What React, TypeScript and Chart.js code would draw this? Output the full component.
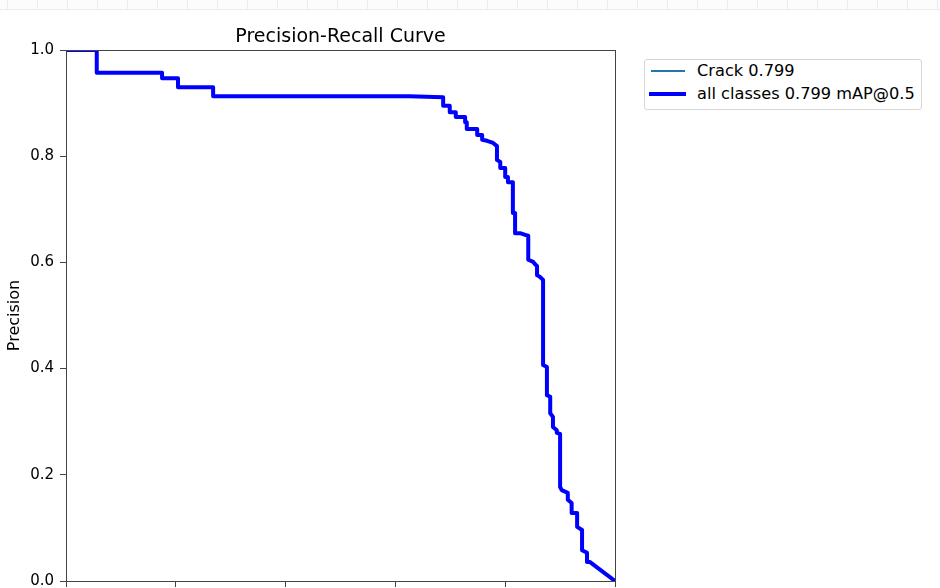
import React, { useEffect, useRef } from "react";
import { Chart, registerables } from "chart.js";

Chart.register(...registerables);

const chartTitle = "Precision-Recall Curve";
const xAxisTitle = "Recall";
const yAxisTitle = "Precision";
const classLabel = "Crack 0.799";
const allLabel = "all classes 0.799 mAP@0.5";

const recall = [
  0, 0.056, 0.056, 0.175, 0.175, 0.204, 0.204, 0.268, 0.268, 0.625, 0.687, 0.687,
  0.699, 0.699, 0.71, 0.71, 0.727, 0.727, 0.73, 0.73, 0.749, 0.749, 0.758, 0.758,
  0.767, 0.778, 0.785, 0.785, 0.791, 0.791, 0.8, 0.8, 0.805, 0.805, 0.814, 0.814,
  0.818, 0.818, 0.827, 0.842, 0.842, 0.851, 0.854, 0.858, 0.858, 0.863, 0.869, 0.869,
  0.876, 0.876, 0.882, 0.882, 0.887, 0.887, 0.894, 0.894, 0.9, 0.9, 0.903, 0.914,
  0.914, 0.921, 0.921, 0.931, 0.931, 0.94, 0.94, 0.949, 0.949, 0.954, 1.0,
];

const precision = [
  1.0, 1.0, 0.957, 0.957, 0.947, 0.947, 0.93, 0.93, 0.913, 0.913, 0.911, 0.895,
  0.895, 0.883, 0.883, 0.874, 0.874, 0.864, 0.864, 0.851, 0.851, 0.84, 0.84, 0.831,
  0.829, 0.825, 0.819, 0.793, 0.789, 0.778, 0.778, 0.761, 0.761, 0.751, 0.751, 0.693,
  0.693, 0.655, 0.655, 0.65, 0.605, 0.601, 0.597, 0.593, 0.576, 0.573, 0.567, 0.407,
  0.403, 0.35, 0.347, 0.316, 0.309, 0.29, 0.284, 0.279, 0.277, 0.177, 0.171, 0.166,
  0.153, 0.147, 0.128, 0.128, 0.102, 0.096, 0.058, 0.053, 0.036, 0.036, 0.0,
];

const axisMin = 0;
const axisMax = 1;
const tickStep = 0.2;

const FONT = "'DejaVu Sans', sans-serif";
const W = 940;
const H = 640;

const framePlugin = {
  id: "frame",
  afterDatasetsDraw(chart: any) {
    const { ctx, chartArea: a } = chart;
    ctx.save();
    ctx.strokeStyle = "#444";
    ctx.lineWidth = 1;
    ctx.strokeRect(
      Math.round(a.left) + 0.5,
      Math.round(a.top) + 0.5,
      Math.round(a.right - a.left),
      Math.round(a.bottom - a.top)
    );
    ctx.restore();
  },
};

export default function App() {
  const ref = useRef<HTMLCanvasElement | null>(null);

  useEffect(() => {
    if (!ref.current) return;
    const points = recall.map((r, i) => ({ x: r, y: precision[i] }));
    const chart = new Chart(ref.current, {
      type: "line",
      data: {
        datasets: [
          {
            label: allLabel,
            data: points,
            borderColor: "#0000ff",
            backgroundColor: "#0000ff",
            borderWidth: 4,
            pointRadius: 0,
            tension: 0,
            fill: false,
            clip: 0,
            borderJoinStyle: "round",
          },
          {
            label: classLabel,
            data: points,
            borderColor: "#1f77b4",
            backgroundColor: "#1f77b4",
            borderWidth: 1,
            pointRadius: 0,
            tension: 0,
            fill: false,
            clip: 0,
          },
        ],
      },
      options: {
        animation: false,
        responsive: false,
        maintainAspectRatio: false,
        layout: { padding: { left: 0, right: W - 615, top: 0, bottom: 0 } },
        plugins: {
          legend: { display: false },
          tooltip: { enabled: false },
          title: {
            display: true,
            fullSize: false,
            text: chartTitle,
            color: "#000",
            font: { family: FONT, size: 19, weight: "normal", lineHeight: 1.2 },
            padding: { top: 26, bottom: 1.2 },
          },
        },
        scales: {
          x: {
            type: "linear",
            min: axisMin,
            max: axisMax,
            border: { display: true, color: "#444", width: 1 },
            grid: {
              display: true,
              drawOnChartArea: false,
              drawTicks: true,
              tickLength: 6,
              color: "#444",
            },
            ticks: {
              stepSize: tickStep,
              color: "#000",
              padding: 6,
              maxRotation: 0,
              font: { family: FONT, size: 15 },
              callback: (v: any) => Number(v).toFixed(1),
            },
            title: {
              display: true,
              text: xAxisTitle,
              color: "#000",
              font: { family: FONT, size: 16 },
            },
            afterFit: (s: any) => {
              s.height = H - 581;
            },
          },
          y: {
            type: "linear",
            min: axisMin,
            max: axisMax,
            border: { display: true, color: "#444", width: 1 },
            grid: {
              display: true,
              drawOnChartArea: false,
              drawTicks: true,
              tickLength: 6,
              color: "#444",
            },
            ticks: {
              stepSize: tickStep,
              color: "#000",
              padding: 6,
              font: { family: FONT, size: 15 },
              callback: (v: any) => Number(v).toFixed(1),
            },
            title: {
              display: true,
              text: yAxisTitle,
              color: "#000",
              font: { family: FONT, size: 16, lineHeight: 1.2 },
              padding: { top: 5, bottom: 0 },
            },
            afterFit: (s: any) => {
              s.width = 66;
            },
          },
        },
      },
      plugins: [framePlugin],
    });
    return () => chart.destroy();
  }, []);

  const stripLines = [];
  for (let x = 7; x < W; x += 30) {
    stripLines.push(
      <div
        key={x}
        style={{ position: "absolute", left: x, top: 0, width: 1, height: 9, background: "#ececec" }}
      />
    );
  }

  return (
    <div style={{ position: "fixed", left: 0, top: 0, width: W, height: H, background: "#fff", overflow: "hidden" }}>
      <canvas ref={ref} width={W} height={H} style={{ position: "absolute", left: 0, top: 0, width: W, height: H }} />
      <div style={{ position: "absolute", left: 0, top: 0, width: W, height: 9, background: "#fcfcfc", borderBottom: "1px solid #ececec" }}>
        {stripLines}
      </div>
      <div
        style={{
          position: "absolute",
          left: 644,
          top: 59,
          width: 278,
          height: 51,
          boxSizing: "border-box",
          border: "1px solid #d6d6d6",
          borderRadius: 3,
          background: "#fff",
        }}
      />
      <div style={{ position: "absolute", left: 651, top: 70, width: 34, height: 1.5, background: "#1f77b4" }} />
      <div style={{ position: "absolute", left: 649, top: 92, width: 37, height: 4, background: "#0000ff" }} />
      <div style={{ position: "absolute", left: 697, top: 61, fontFamily: FONT, fontSize: 16.2, lineHeight: "20px", color: "#000", whiteSpace: "nowrap" }}>
        {classLabel}
      </div>
      <div style={{ position: "absolute", left: 697, top: 84, fontFamily: FONT, fontSize: 16.2, lineHeight: "20px", color: "#000", whiteSpace: "nowrap" }}>
        {allLabel}
      </div>
    </div>
  );
}
